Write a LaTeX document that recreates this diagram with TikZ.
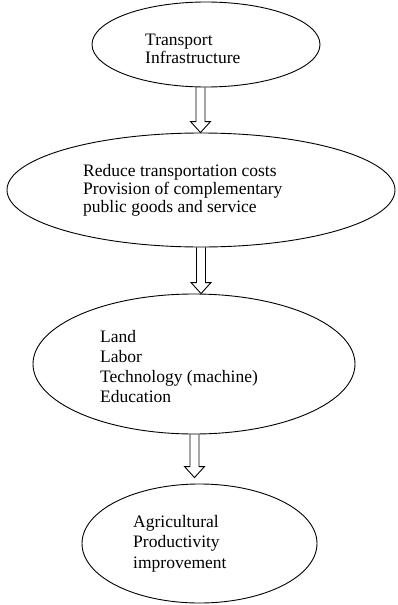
\documentclass[tikz,border=0pt]{standalone}
\usepackage{fontspec}
\setmainfont{Liberation Serif}
\usetikzlibrary{shapes.geometric,calc}

% hollow block arrow: #1 source oval, #2 target oval, #3 x offset, #4 gap above target
\newcommand{\blockarrow}[4]{%
  \coordinate (tip) at ($(#1.south |- #2.north)+(#3,-#4)$);
  \draw[line width=0.9pt, line join=miter]
    ($(#1.south)+(#3-4.5,0)$) -- ($(tip)+(-4.5,-11)$) -- ++(-5.5,0) -- (tip)
    -- ++(10,-11) -- ++(-5.5,0) -- ($(#1.south)+(#3+4.5,0)$);}

\tikzset{
  oval/.style={draw, ellipse, line width=0.9pt, inner sep=0pt},
  itemtext/.style={align=left, inner sep=0pt, anchor=north west, font=\fontsize{17.5}{18}\selectfont},
}

\begin{document}
\begin{tikzpicture}[x=1pt,y=-1pt]
\useasboundingbox (0,0) rectangle (397,605);

% Draw the ovals
\node[oval, minimum width=228, minimum height=85]  (infra)  at (206,44.5)  {};
\node[oval, minimum width=388, minimum height=114] (costs)  at (201,190)   {};
\node[oval, minimum width=322, minimum height=140] (inputs) at (194,364)   {};
\node[oval, minimum width=235, minimum height=119] (output) at (199.5,543.5) {};

% Write the texts inside them
\node[itemtext] (infratext)  at (145,33.5)  {Transport\\Infrastructure};
\node[itemtext] (coststext) at (83,164)
  {Reduce transportation costs\\Provision of complementary\\public goods and service};
\node[itemtext, font=\fontsize{17.5}{20}\selectfont] (inputstext) at (100,330)
  {Land\\Labor\\Technology (machine)\\Education};
\node[itemtext, font=\fontsize{17.5}{20.5}\selectfont] (outputtext) at (133,515)
  {Agricultural\\Productivity\\improvement};

% Draw the arrows between the ovals
\blockarrow{infra}{costs}{-5.5}{0}
\blockarrow{costs}{inputs}{0}{0}
\blockarrow{inputs}{output}{0.5}{6}

\end{tikzpicture}
\end{document}
